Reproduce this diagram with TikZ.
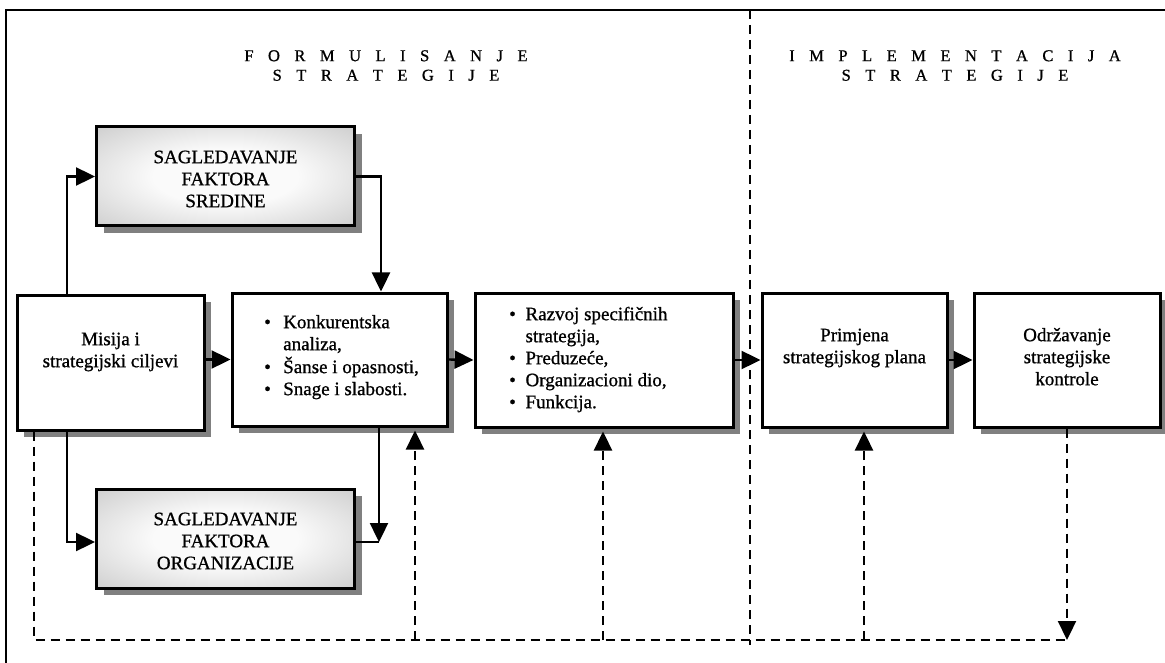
\documentclass[tikz,border=0pt]{standalone}
\usepackage{fontspec}
\setmainfont{Liberation Serif}[UprightFeatures={FakeBold=0.9}]
\usetikzlibrary{arrows.meta,shadows,calc}
\definecolor{shadowgray}{RGB}{128,128,128}
\definecolor{shadeout}{RGB}{155,155,155}
\definecolor{shadeedge}{RGB}{178,178,178}
\definecolor{shadein}{RGB}{250,250,250}
\pgfdeclareradialshading{boxshade}{\pgfpoint{0bp}{0bp}}{color(0bp)=(shadein); color(14bp)=(shadein); color(50bp)=(shadeedge); color(72bp)=(shadeout)}
\begin{document}
\begin{tikzpicture}[x=1pt,y=-1pt,
  basebox/.style={draw=black, line width=3pt, inner sep=0pt,
    general shadow={fill=shadowgray, shadow xshift=7pt, shadow yshift=-7pt}},
  wbox/.style={basebox, fill=white},
  gbox/.style={basebox, shading=boxshade},
  txt/.style={font=\fontsize{19}{22}\selectfont, inner sep=0pt},
  ttl/.style={font={\fontsize{16.5}{19.5}\selectfont\spaceskip=14.5pt\relax}, inner sep=0pt, anchor=north},
  conn/.style={line width=2.4pt, -{Triangle[length=19pt,width=18pt]}},
  plain/.style={line width=2.4pt},
  dline/.style={line width=2.3pt, dash pattern=on 9pt off 6pt},
  darrow/.style={dline, -{Triangle[length=19pt,width=18pt]}},
]
\useasboundingbox (0,0) rectangle (1165,663);
% frame (left and top)
\coordinate (fbl) at (6,663);
\coordinate (ftl) at (6,10);
\coordinate (ftr) at (1165,10);
\draw[line width=2.4pt] (fbl) -- (ftl) -- (ftr);

% separator
\coordinate (s0) at (750,10);
\coordinate (s1) at (750,645);
\draw[dline] (s0) -- (s1);

% titles
\node[ttl] (t1) at (386,47.3) {\begin{tabular}{@{}c@{}}F O R M U L I S A N J E\\S T R A T E G I J E\end{tabular}};
\node[ttl] (t2) at (955,47.3) {\begin{tabular}{@{}c@{}}I M P L E M E N T A C I J A\\S T R A T E G I J E\end{tabular}};

% boxes
\node[wbox, minimum width=187pt, minimum height=135pt] (misija) at (110.5,362.5) {};
\node[wbox, minimum width=215pt, minimum height=133pt] (konk) at (339.5,359.5) {};
\node[wbox, minimum width=258pt, minimum height=134pt] (razvoj) at (604,360) {};
\node[wbox, minimum width=185pt, minimum height=134pt] (primjena) at (854.5,360) {};
\node[wbox, minimum width=186pt, minimum height=134pt] (odrz) at (1067,360) {};
\node[gbox, minimum width=258pt, minimum height=99pt] (sredine) at (225.5,176.5) {};
\node[gbox, minimum width=258pt, minimum height=99pt] (organiz) at (225.5,538.5) {};

% texts
\node[txt, anchor=north] (misijaT) at (110.5,329.6) {\begin{tabular}{@{}c@{}}Misija i\\strategijski ciljevi\end{tabular}};
\node[txt, anchor=north west] (konkT) at (264,312.6) {\begin{tabular}{@{}l@{\hspace{12.4pt}}l@{}}\textbullet & Konkurentska\\ & analiza,\\ \textbullet & Šanse i opasnosti,\\ \textbullet & Snage i slabosti.\end{tabular}};
\node[txt, anchor=north west] (razvojT) at (509,304.6) {\begin{tabular}{@{}l@{\hspace{9.7pt}}l@{}}\textbullet & Razvoj specifičnih\\ & strategija,\\ \textbullet & Preduzeće,\\ \textbullet & Organizacioni dio,\\ \textbullet & Funkcija.\end{tabular}};
\node[txt, anchor=north] (primjenaT) at (854.5,325.6) {\begin{tabular}{@{}c@{}}Primjena\\strategijskog plana\end{tabular}};
\node[txt, anchor=north] (odrzT) at (1067,325.6) {\begin{tabular}{@{}c@{}}Održavanje\\strategijske\\kontrole\end{tabular}};
\node[txt, anchor=north] (sredineT) at (225.5,147.6) {\begin{tabular}{@{}c@{}}SAGLEDAVANJE\\FAKTORA\\SREDINE\end{tabular}};
\node[txt, anchor=north] (organizT) at (225.5,509.6) {\begin{tabular}{@{}c@{}}SAGLEDAVANJE\\FAKTORA\\ORGANIZACIJE\end{tabular}};

% helper coordinates
\coordinate (c1) at (67,0);
\coordinate (kin) at (381,0);
\coordinate (kout) at (379,0);
\coordinate (oy) at (0,542);
\coordinate (d0) at (34,640);
\coordinate (u1) at (415,640);
\coordinate (u2) at (603,640);
\coordinate (u3) at (864,640);

% solid connectors
\draw[conn] (c1 |- misija.north) |- (sredine.west);
\draw[conn] (sredine.east) -| (kin |- konk.north);
\draw[conn] (c1 |- misija.south) |- (organiz.west |- oy);
\draw[conn] (kout |- konk.south) -- (kout |- oy);
\draw[plain] (organiz.east |- oy) -- (kout |- oy);
\draw[conn] (misija.east |- konk.west) -- (konk.west);
\draw[conn] (konk.east) -- (razvoj.west);
\draw[conn] (razvoj.east) -- (primjena.west);
\draw[conn] (primjena.east) -- (odrz.west);

% dashed feedback
\draw[dline] (d0 |- misija.south) -- (d0) -- (odrz.south |- d0);
\draw[darrow] (odrz.south) -- (odrz.south |- d0);
\draw[darrow, shorten >=3pt] (u1) -- (u1 |- konk.south);
\draw[darrow, shorten >=3pt] (u2) -- (u2 |- razvoj.south);
\draw[darrow, shorten >=3pt] (u3) -- (u3 |- primjena.south);
\end{tikzpicture}
\end{document}
